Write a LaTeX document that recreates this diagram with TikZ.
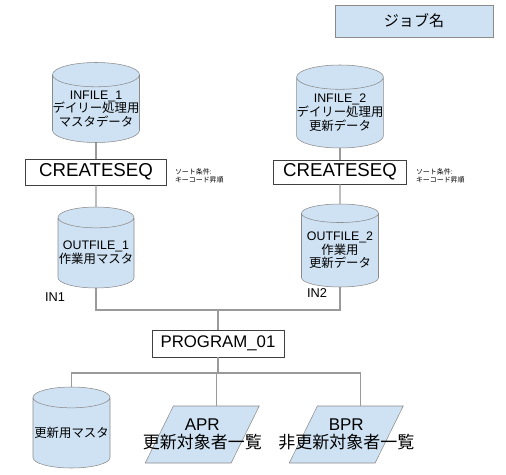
\documentclass[tikz,border=0pt]{standalone}
\usepackage{fontspec}
\setmainfont{Liberation Sans}
\newfontfamily\jp{Noto Sans CJK JP}
\usetikzlibrary{shapes.geometric,positioning}
\definecolor{bleu}{HTML}{CFE2F3}
\definecolor{bord}{HTML}{8A8A8A}
\definecolor{trait}{HTML}{9A9A9A}
\tikzset{
  base/.style={cylinder, shape border rotate=90, aspect=0.28, anchor=shape center,
    draw=bord, fill=bleu, align=center, inner sep=0pt,
    font=\fontsize{9.3}{10.2}\selectfont},
  boite/.style={draw=black!75, fill=white, inner sep=0pt, font=\fontsize{14}{16}\selectfont},
  liste/.style={trapezium, trapezium left angle=64, trapezium right angle=116,
    trapezium stretches=true, draw=bord, fill=bleu, inner sep=1pt,
    minimum width=85.5pt, minimum height=42.75pt},
  texte/.style={align=center, inner sep=0pt, font=\fontsize{12.75}{13.5}\selectfont},
  note/.style={align=left, inner sep=0pt, font=\jp\fontsize{5.2}{5.6}\selectfont},
  ligne/.style={draw=trait, line width=0.8pt}
}
\begin{document}
\begin{tikzpicture}[x=0.75pt,y=-0.75pt]
\useasboundingbox (0,0) rectangle (506,474);
%legende
\node[draw=bord, fill=bleu, minimum width=118.5pt, minimum height=24pt,
  font=\jp\fontsize{11.3}{13}\selectfont] (job) at (414,21) {ジョブ名};
%entrees
\node[base, minimum width=65.25pt, minimum height=60pt] (in1) at (96,102.5)
  {INFILE\_1\\\jp デイリー処理用\\\jp マスタデータ};
\node[base, minimum width=63.75pt, minimum height=62.25pt] (in2) at (340,106.5)
  {INFILE\_2\\\jp デイリー処理用\\\jp 更新データ};
%tri
\node[boite, minimum width=105.75pt, minimum height=19.5pt] (cs1) at (96,172) {CREATESEQ};
\node[boite, minimum width=99.75pt, minimum height=18pt] (cs2) at (340,172) {CREATESEQ};
\node[note, right=6pt of cs1, yshift=-3pt] (n1) {ソート条件:\\キーコード昇順};
\node[note, right=6.75pt of cs2, yshift=-3pt] (n2) {ソート条件:\\キーコード昇順};
%sorties du tri
\node[base, minimum width=57pt, minimum height=60.75pt] (out1) at (96,247.5)
  {OUTFILE\_1\\\jp 作業用マスタ};
\node[base, minimum width=57.75pt, minimum height=62.25pt] (out2) at (340,245.5)
  {OUTFILE\_2\\\jp 作業用\\\jp 更新データ};
\node[font=\fontsize{9.6}{11}\selectfont] (lin1) at (55,297) {IN1};
\node[font=\fontsize{9.6}{11}\selectfont] (lin2) at (317,293) {IN2};
%programme
\node[boite, minimum width=99pt, minimum height=20.25pt,
  font=\fontsize{12.6}{14}\selectfont] (prog) at (218,343.5) {PROGRAM\_01};
%resultats
\node[base, minimum width=57.75pt, minimum height=60.75pt] (db) at (71.5,427.5)
  {\jp 更新用マスタ};
\node[liste] (apr) at (202.25,434.5) {};
\node[liste] (bpr) at (346.25,434.5) {};
\node[texte] (aprt) at (apr.center) {APR\\\jp 更新対象者一覧};
\node[texte] (bprt) at (bpr.center) {BPR\\\jp 非更新対象者一覧};
%liaisons
\coordinate (j) at (218,310);
\coordinate (k) at (218,373);
\draw[ligne] (in1) -- (cs1);
\draw[ligne] (cs1) -- (out1);
\draw[ligne] (in2) -- (cs2);
\draw[ligne] (cs2) -- (out2);
\draw[ligne] (out1.south) |- (j) -| (out2.south);
\draw[ligne] (j) -- (prog);
\draw[ligne] (prog) -- (k);
\draw[ligne] (db.north) |- (bpr.top side |- k) -- (bpr.top side);
\draw[ligne] (apr.top side |- k) -- (apr.top side);
\end{tikzpicture}
\end{document}
